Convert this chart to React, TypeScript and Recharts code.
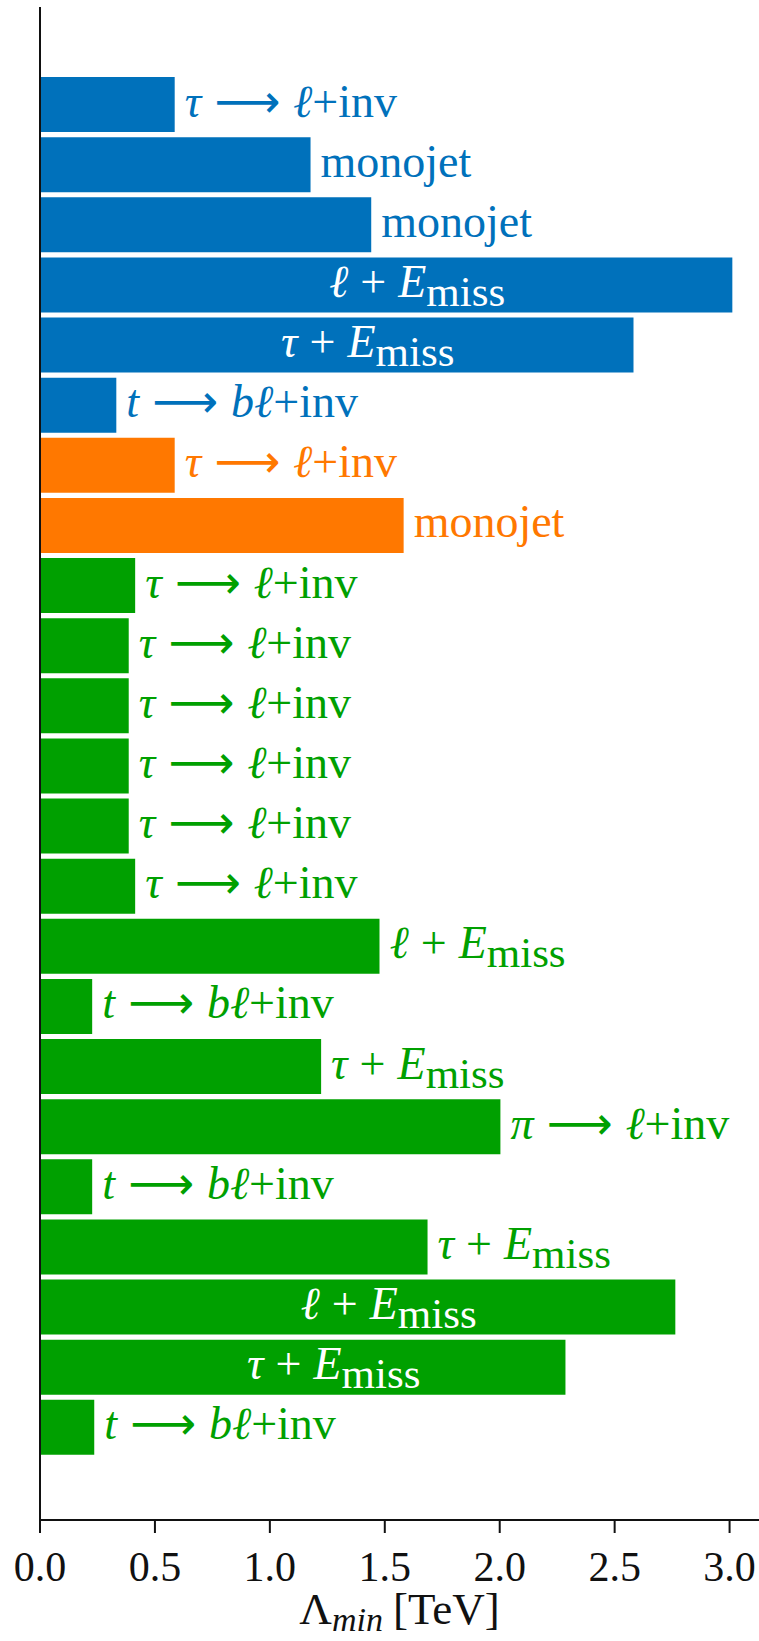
import React from 'react';
import { BarChart, Bar, XAxis, YAxis, Cell, LabelList } from 'recharts';

// Search channels, top to bottom
const channels = [
  'tauInv', 'monojet', 'monojet', 'lEmiss', 'tauEmiss', 'tbInv',
  'tauInv', 'monojet',
  'tauInv', 'tauInv', 'tauInv', 'tauInv', 'tauInv', 'tauInv',
  'lEmiss', 'tbInv', 'tauEmiss', 'piInv', 'tbInv', 'tauEmiss', 'lEmiss', 'tauEmiss', 'tbInv',
];

// Lower bound on the scale, TeV
const lambdaMin = [
  0.586, 1.177, 1.441, 3.012, 2.582, 0.332,
  0.586, 1.582,
  0.414, 0.386, 0.386, 0.386, 0.386, 0.414,
  1.477, 0.227, 1.223, 2.003, 0.227, 1.686, 2.764, 2.286, 0.236,
];

// Operator family of each row
const families = [
  'blue', 'blue', 'blue', 'blue', 'blue', 'blue',
  'orange', 'orange',
  'green', 'green', 'green', 'green', 'green', 'green',
  'green', 'green', 'green', 'green', 'green', 'green', 'green', 'green', 'green',
];

const familyColors: Record<string, string> = {
  blue: '#0071BB',
  orange: '#FF7800',
  green: '#00A000',
};

const xTicks = [0, 0.5, 1.0, 1.5, 2.0, 2.5, 3.0];

const data = lambdaMin.map((v, i) => ({ row: `r${i}`, value: v }));

const FONT = '"Liberation Serif", "DejaVu Serif", serif';
const ARROW_FONT = '"DejaVu Sans", "DejaVu Serif", sans-serif';
const INSIDE_THRESHOLD = 2.2;

function channelSpans(kind: string) {
  const it = { fontStyle: 'italic' as const };
  const arrow = (
    <tspan fontFamily={ARROW_FONT} fontSize={46} dx={13}>⟶</tspan>
  );
  const decay = (lead: string) => [
    <tspan key="a" style={it}>{lead}</tspan>,
    <React.Fragment key="b">{arrow}</React.Fragment>,
    <tspan key="c" style={it} dx={13}>{lead === 't' ? 'bℓ' : 'ℓ'}</tspan>,
    <tspan key="d">+inv</tspan>,
  ];
  const missing = (lead: string) => [
    <tspan key="a" style={it}>{lead}</tspan>,
    <tspan key="b" dx={12}>+</tspan>,
    <tspan key="c" style={it} dx={12}>E</tspan>,
    <tspan key="d" fontSize={43} dy={9}>miss</tspan>,
  ];
  switch (kind) {
    case 'tauInv':
      return decay('τ');
    case 'piInv':
      return decay('π');
    case 'tbInv':
      return decay('t');
    case 'lEmiss':
      return missing('ℓ');
    case 'tauEmiss':
      return missing('τ');
    default:
      return [<tspan key="a">monojet</tspan>];
  }
}

function ChannelLabel(props: any) {
  const { x, y, width, height, index } = props;
  const kind = channels[index];
  const value = lambdaMin[index];
  const cy = Number(y) + Number(height) / 2 + 12;
  const inside = value >= INSIDE_THRESHOLD;
  if (inside) {
    return (
      <text
        x={Number(x) + Number(width) / 2 + 31}
        y={cy}
        textAnchor="middle"
        fill="#ffffff"
        fontFamily={FONT}
        fontSize={46}
      >
        {channelSpans(kind)}
      </text>
    );
  }
  return (
    <text
      x={Number(x) + Number(width) + 10}
      y={cy}
      textAnchor="start"
      fill={familyColors[families[index]]}
      fontFamily={FONT}
      fontSize={46}
    >
      {channelSpans(kind)}
    </text>
  );
}

function AxisTitle(props: any) {
  const { viewBox } = props;
  const cx = viewBox.x + viewBox.width / 2;
  const y = viewBox.y + 104;
  return (
    <text x={cx} y={y} textAnchor="middle" fontFamily={FONT} fontSize={45} fill="#111">
      <tspan>Λ</tspan>
      <tspan fontStyle="italic" fontSize={34} dy={7}>min</tspan>
      <tspan dy={-7} dx={10}>[TeV]</tspan>
    </text>
  );
}

export default function App() {
  return (
    <div style={{ position: 'absolute', left: 0, top: 0, width: 759, height: 1641, background: '#fff' }}>
      <BarChart
        width={759}
        height={1641}
        data={data}
        layout="vertical"
        margin={{ top: 7, right: 0, bottom: 0, left: 0 }}
        barSize={55}
      >
        <XAxis
          type="number"
          dataKey="value"
          domain={[0, 3.128]}
          ticks={xTicks}
          allowDataOverflow
          tickFormatter={(v: number) => v.toFixed(1)}
          height={121}
          tickSize={13}
          tickMargin={18}
          axisLine={{ stroke: '#111', strokeWidth: 2 }}
          tickLine={{ stroke: '#111', strokeWidth: 2 }}
          tick={{ fill: '#111', fontFamily: FONT, fontSize: 42 }}
          label={{ content: <AxisTitle /> }}
        />
        <XAxis
          xAxisId="frame"
          orientation="top"
          type="number"
          domain={[0, 3.128]}
          height={0}
          tick={false}
          tickLine={false}
          axisLine={{ stroke: '#111', strokeWidth: 2 }}
        />
        <YAxis
          type="category"
          dataKey="row"
          width={40}
          padding={{ top: 67, bottom: 63 }}
          tick={false}
          tickSize={14}
          axisLine={{ stroke: '#111', strokeWidth: 2 }}
          tickLine={{ stroke: '#111', strokeWidth: 2 }}
        />
        <Bar dataKey="value" isAnimationActive={false}>
          {data.map((d, i) => (
            <Cell key={d.row} fill={familyColors[families[i]]} />
          ))}
          <LabelList dataKey="value" content={<ChannelLabel />} />
        </Bar>
      </BarChart>
    </div>
  );
}
